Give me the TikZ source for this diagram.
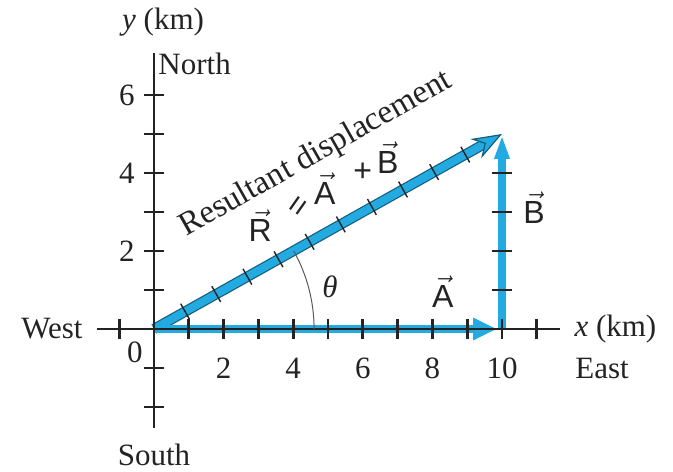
\documentclass[tikz,border=0pt]{standalone}
\usepackage{amsmath}
\usepackage{fontspec}
\setmainfont{Liberation Serif}
\setsansfont{Liberation Sans}
\usepackage{tikz}
\usetikzlibrary{arrows.meta, calc, positioning}

\definecolor{vecblue}{RGB}{35,170,225}
\definecolor{inkdark}{RGB}{35,35,35}

\newcommand{\vlab}[1]{$\vec{\mathsf{#1}}$}

\begin{document}
\begin{tikzpicture}[
  x=17.4pt, y=19.5pt,
  every node/.style = {font=\fontsize{15.5}{18}\selectfont,
                       text=inkdark, inner sep=1pt},
  axline/.style  = {line width=1.4pt, inkdark},
  axtick/.style  = {line width=1.4pt, inkdark},
  rtick/.style   = {line width=0.7pt, inkdark},
  veclbl/.style  = {font=\fontsize{16}{18}\selectfont\sffamily, inner sep=0pt},
  arrA/.style = {line width=4pt, vecblue,
                 -{Triangle[length=12pt, width=10.5pt]}},
  arrB/.style = {line width=4pt, vecblue,
                 -{Triangle[length=12pt, width=7pt]}},
  arrR/.style = {line width=4pt, vecblue,
                 -{Stealth[length=15pt, width=11pt, inset=5pt,
                   fill=vecblue, color=vecblue!55!black, line width=0.6pt]}},
  rim/.style  = {line width=5.2pt, vecblue!55!black, shorten >=11pt},
]

\useasboundingbox (-77pt,-71pt) rectangle (259.5pt,164.5pt);

%% ── Points ────────────────────────────────────────────────────────────────
\coordinate (O)  at (0,0);
\coordinate (P)  at (10,0);
\coordinate (Q)  at (10,5);
\coordinate (xW) at (-1.64,0);
\coordinate (xE) at (11.67,0);
\coordinate (yS) at (0,-2.54);
\coordinate (yN) at (0,7.08);

%% ── Vectors ───────────────────────────────────────────────────────────────
\draw[arrB, shorten >=0.5pt] (P) -- (Q);
\draw[rim] (O) -- (Q);
\draw[arrR] (O) -- (Q);
\draw[arrA, shorten >=2.5pt] (O) -- (P);

%% ── Axes and ticks ────────────────────────────────────────────────────────
\draw[axline] (xW) -- (xE);
\draw[axline] (yS) -- (yN);
\foreach \i in {-1,1,2,...,11}
  \draw[axtick] (\i,0) ++(0,-5pt) -- ++(0,10pt);
\foreach \j in {-2,-1,1,2,...,6}
  \draw[axtick] (0,\j) ++(-5pt,0) -- ++(10pt,0);
\foreach \j in {1,...,4}
  \draw[axtick] (10,\j) ++(-5pt,0) -- ++(10pt,0);
\foreach \k in {1,...,10} {
  \coordinate (rk) at ($(O)!\k/11.18!(Q)$);
  \draw[rtick] ($(rk)!4.5pt!90:(Q)$) -- ($(rk)!4.5pt!-90:(Q)$);
}

%% ── Angle ─────────────────────────────────────────────────────────────────
\draw[gray!70!black, line width=0.5pt]
  (4.6,0) arc[start angle=0, end angle=29.26, x radius=4.6, y radius=4.1];
\node (theta) at (5.06,1.08) {\textit{θ}};

%% ── Axis labels ───────────────────────────────────────────────────────────
\node (ylab) at (0.26,7.87) {\textit{y} (km)};
\node[anchor=west] (north) at (0.06,6.79) {North};
\node (south) at (0,-3.23) {South};
\node[left=6pt of xW] (west) {West};
\node[right=6pt of xE] (xlab) {\textit{x} (km)};
\node[anchor=west] (east) at (12.04,-1.0) {East};
\node (zero) at (-0.55,-0.59) {0};
\foreach \j in {2,4,6}
  \node (ny\j) at (-0.78,\j) {\j};
\foreach \i in {2,4,...,10}
  \node (nx\i) at (\i,-1.0) {\i};

%% ── Vector labels ─────────────────────────────────────────────────────────
\node[veclbl] (labA) at (8.3,0.95) {\vlab{A}};
\node[veclbl] (labB) at (10.92,3.1) {\vlab{B}};
\node[font=\fontsize{16.5}{18}\selectfont, rotate=29.5]
  (result) at (4.66,4.48) {Resultant displacement};
\node[veclbl] (eqR) at (3.05,2.66) {\vlab{R}};
\node[veclbl, rotate=55] (eqeq) at (4.2,3.13) {=};
\node[veclbl] (eqA) at (4.91,3.6) {\vlab{A}};
\node[veclbl] (eqplus) at (6.0,4.03) {+};
\node[veclbl] (eqB) at (6.72,4.4) {\vlab{B}};

\end{tikzpicture}
\end{document}
